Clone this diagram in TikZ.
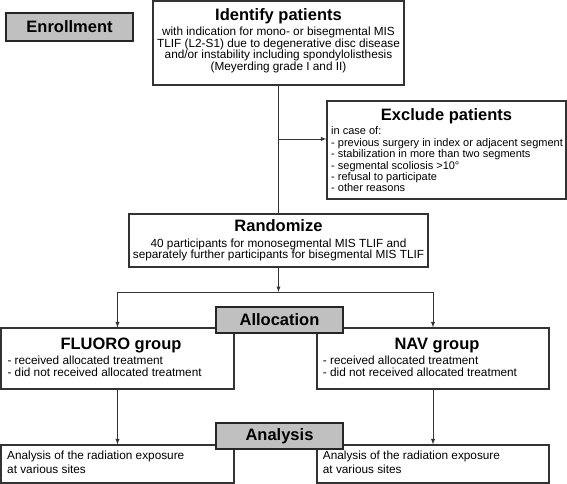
\documentclass[tikz,border=0pt]{standalone}
\usepackage{fontspec}
\setmainfont{Liberation Sans}
\usetikzlibrary{arrows,arrows.meta,positioning,calc}
\tikzset{>=latex}
\definecolor{tagfill}{RGB}{192,192,192}
\colorlet{edgeclr}{black!80}
\newcommand{\headfont}{\fontsize{16.5}{19}\selectfont\bfseries}
\newcommand{\bodyfont}{\fontsize{11.8}{11.5}\selectfont}
\newcommand{\listfont}{\fontsize{11}{11.4}\selectfont}

\begin{document}
\begin{tikzpicture}[x=1pt, y=-1pt, box/.style={draw=edgeclr, line width=1.1pt, fill=white, inner sep=0pt}, tag/.style={draw=black!85, line width=2pt, fill=tagfill, inner sep=0pt, font=\headfont}, head/.style={anchor=base, inner sep=0pt, font=\headfont}, body/.style={inner sep=0pt, font=\bodyfont}, arr/.style={->, line width=0.9pt, draw=edgeclr}, link/.style={line width=0.9pt, draw=edgeclr}]

    \useasboundingbox (0,0) rectangle (567,484);

    % Boxes
    \node[box, minimum width=251pt, minimum height=84pt] (identify) at (278.5,43) {};
    \node[box, minimum width=239pt, minimum height=98pt] (exclude) at (446.5,150) {};
    \node[box, minimum width=299pt, minimum height=53pt] (randomize) at (278.5,240.5) {};
    \node[box, minimum width=233pt, minimum height=61pt] (fluoro) at (117.5,358.5) {};
    \node[box, minimum width=232pt, minimum height=61pt] (nav) at (433,358.5) {};
    \node[box, minimum width=233pt, minimum height=38pt] (resultL) at (117.5,464) {};
    \node[box, minimum width=232pt, minimum height=38pt] (resultR) at (433,464) {};

    % Texts
    \node[head] (identifyhead) at (278.5,21) {Identify patients};
    \node[body, anchor=north, align=center] (identifytxt) at (278.5,27) {with indication for mono- or bisegmental MIS\\TLIF (L2-S1) due to degenerative disc disease\\and/or instability including spondylolisthesis\\(Meyerding grade I and II)};

    \node[head] (excludehead) at (446.5,121) {Exclude patients};
    \node[body, font=\listfont, anchor=north west, align=left] (excludetxt) at (331,126.7) {in case of:\\- previous surgery in index or adjacent segment\\- stabilization in more than two segments\\- segmental scoliosis >10°\\- refusal to participate\\- other reasons};

    \node[head] (randomizehead) at (278.5,231) {Randomize};
    \node[body, anchor=north, align=center] (randomizetxt) at (278.5,238.5) {40 participants for monosegmental MIS TLIF and\\separately further participants for bisegmental MIS TLIF};

    \node[head] (fluorohead) at (121,349) {FLUORO group};
    \node[body, anchor=north west, align=left] (fluorotxt) at (7.3,356) {- received allocated treatment\\- did not received allocated treatment};

    \node[head] (navhead) at (437,349) {NAV group};
    \node[body, anchor=north west, align=left] (navtxt) at (322.7,356) {- received allocated treatment\\- did not received allocated treatment};

    \node[body, anchor=north west, align=left, font=\fontsize{11.8}{13.3}\selectfont] (resultLtxt) at (7,451) {Analysis of the radiation exposure\\at various sites};
    \node[body, anchor=north west, align=left, font=\fontsize{11.8}{13.3}\selectfont] (resultRtxt) at (322.7,451) {Analysis of the radiation exposure\\at various sites};

    % Connectors
    \coordinate (excl) at (278.5,139);
    \coordinate (split) at (278.5,292);
    \draw[link] (identify.south) -- (randomize.north);
    \draw[arr] (excl) -- (excl -| exclude.west);
    \draw[arr] (randomize.south) -- (split);
    \draw[arr] (split) -| (fluoro.north);
    \draw[arr] (split) -| (nav.north);
    \draw[arr] (fluoro.south) -- (resultL.north);
    \draw[arr] (nav.south) -- (resultR.north);

    % Stage tags
    \node[tag, minimum width=127pt, minimum height=28pt] (enroll) at (69.5,27) {Enrollment};
    \node[tag, minimum width=127pt, minimum height=26pt] (alloc) at (279.5,320) {Allocation};
    \node[tag, minimum width=127pt, minimum height=26pt] (analysis) at (279.5,436) {Analysis};
\end{tikzpicture}
\end{document}
